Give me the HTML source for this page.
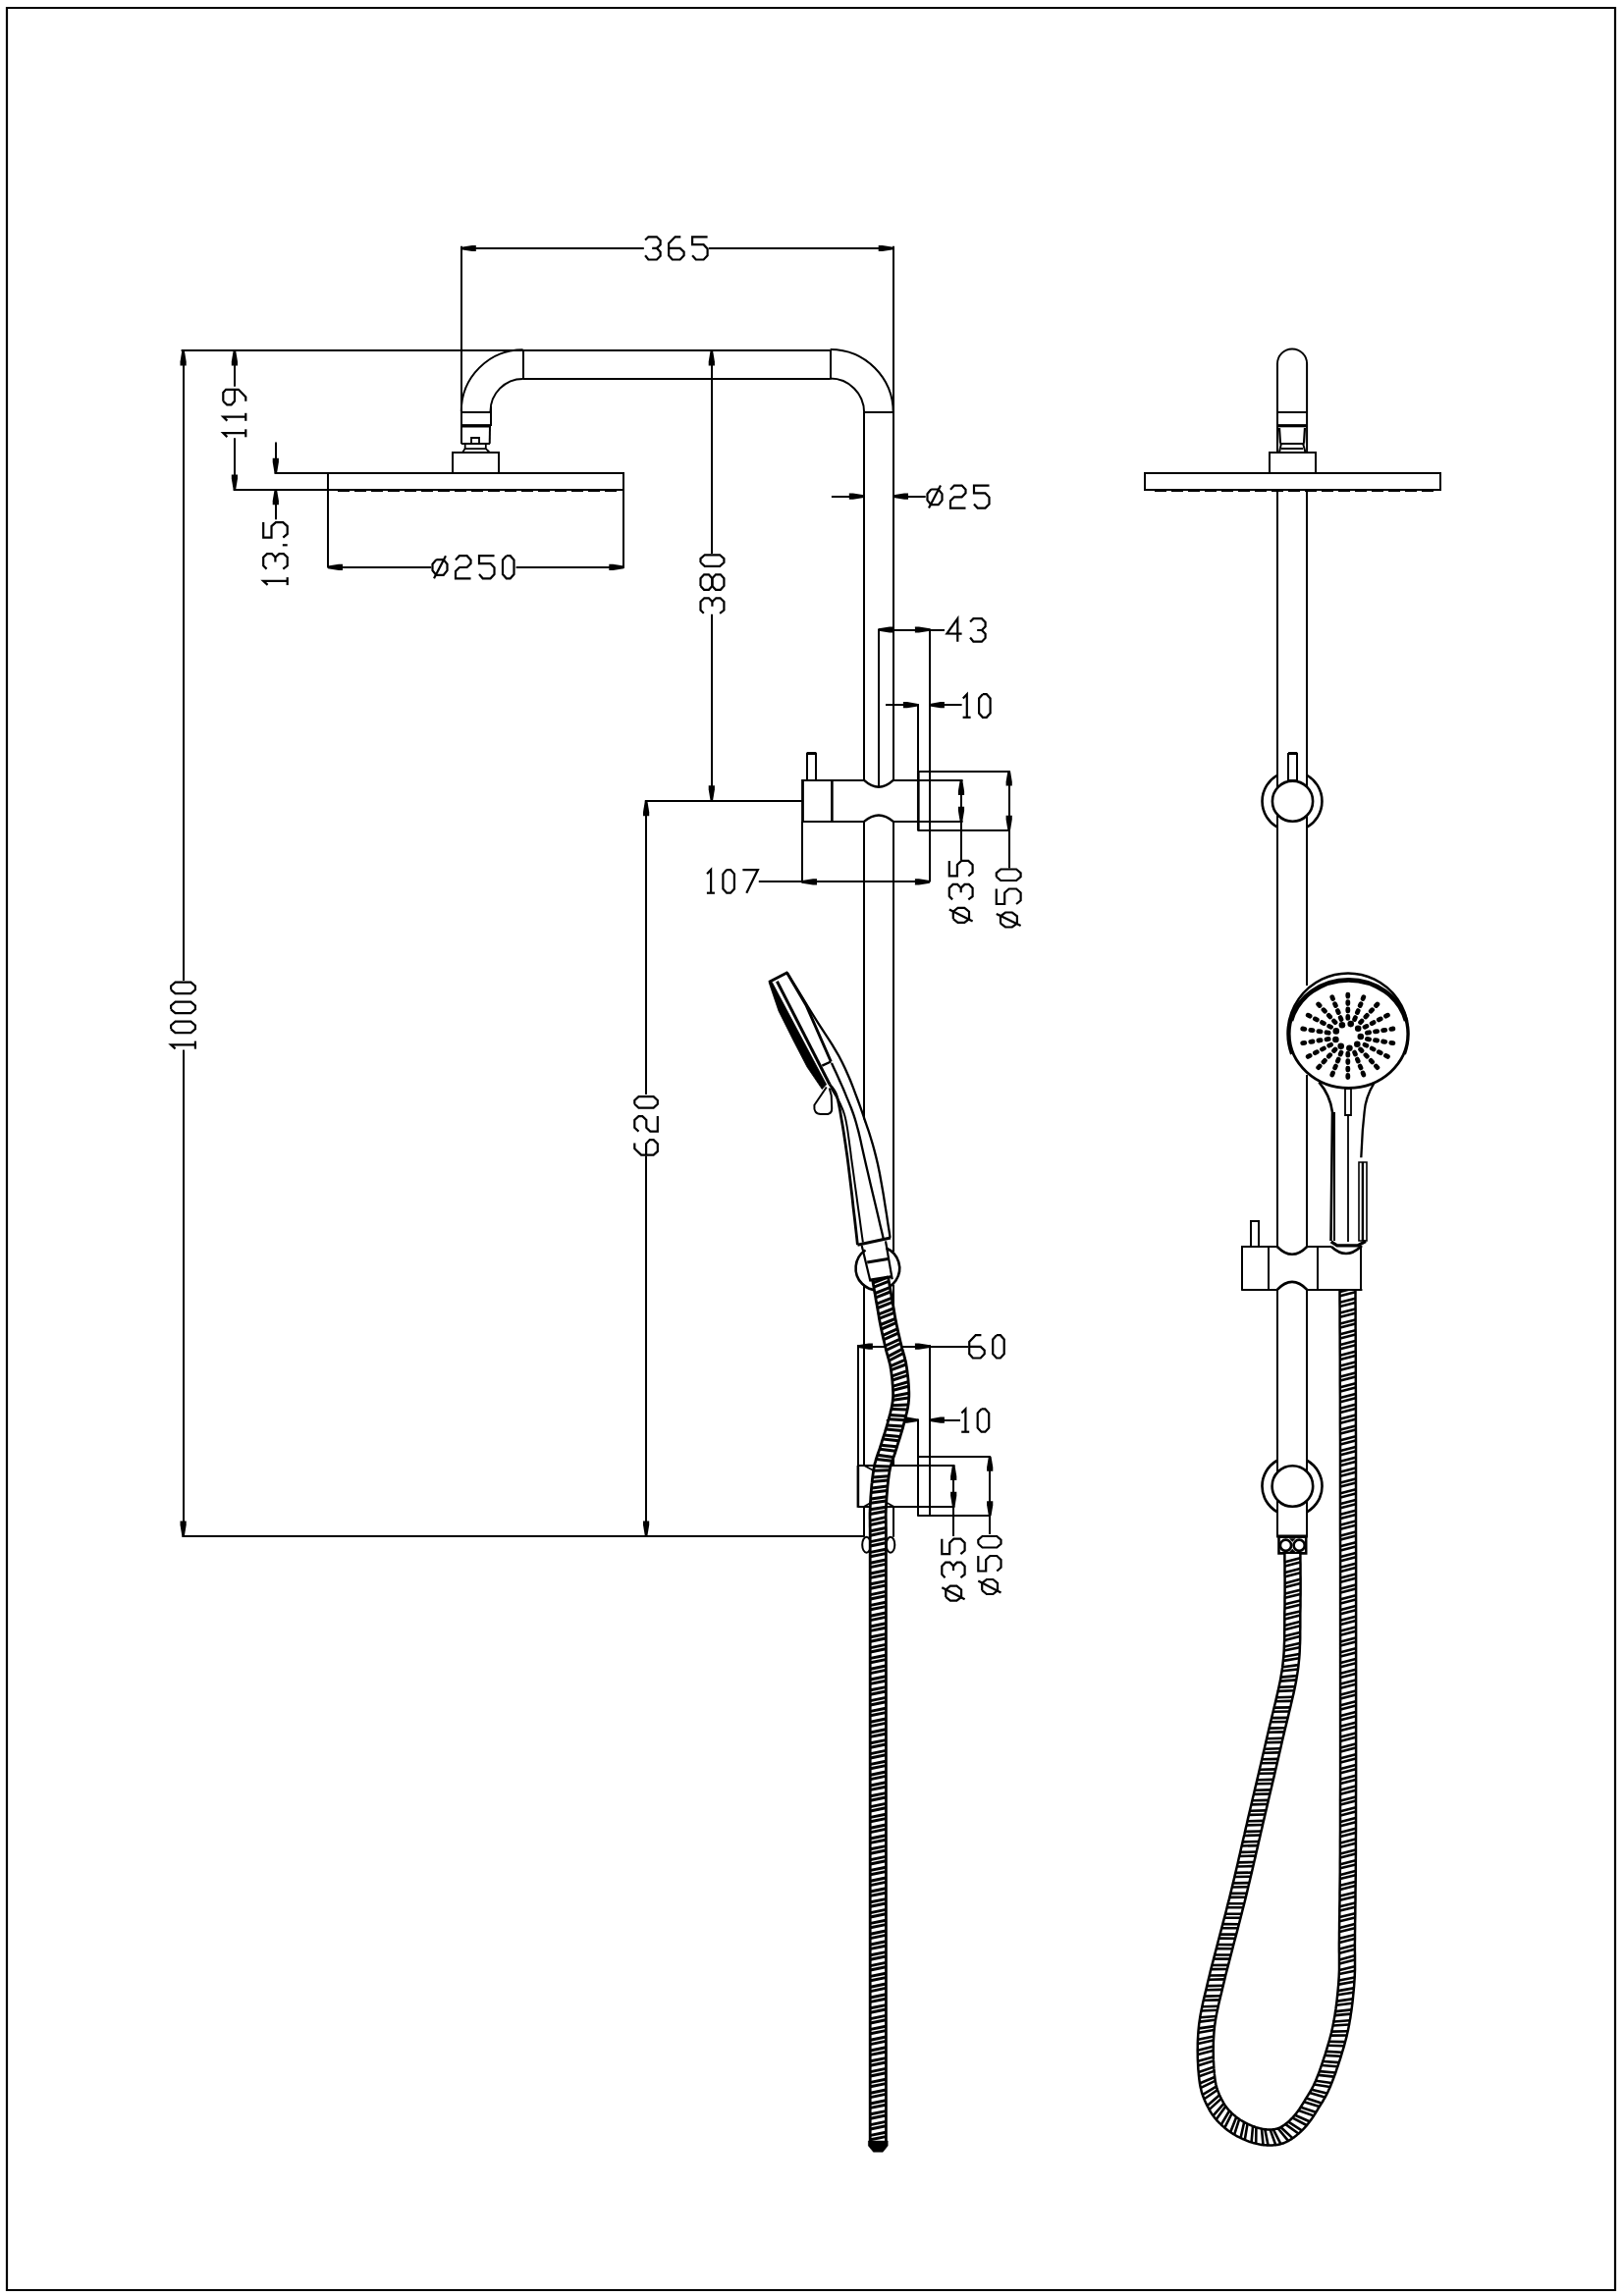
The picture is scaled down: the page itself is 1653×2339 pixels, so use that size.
<!DOCTYPE html>
<html><head><meta charset="utf-8"><title>Shower drawing</title>
<style>
html,body{margin:0;padding:0;background:#fff;}
body{width:1653px;height:2339px;overflow:hidden;font-family:"Liberation Sans",sans-serif;}
svg{display:block;}
</style></head><body>
<svg width="1653" height="2339" viewBox="0 0 1653 2339" xmlns="http://www.w3.org/2000/svg" fill="none" stroke="#000" stroke-linecap="butt" stroke-linejoin="miter">
<polygon points="7,8 1645,8 1645,2333 7,2333" stroke-width="2.2"/>
<line x1="184.6" y1="357" x2="845.6" y2="357" stroke-width="2"/>
<line x1="532.6" y1="386" x2="845.6" y2="386" stroke-width="2"/>
<line x1="533" y1="356.8" x2="533" y2="386.4" stroke-width="2"/>
<line x1="846" y1="356.8" x2="846" y2="386.4" stroke-width="2"/>
<path d="M469.8,419 A62.8,62.8 0 0 1 532.6,356.2" stroke-width="2"/>
<path d="M499.5,419 A33.1,33.1 0 0 1 532.6,385.9" stroke-width="2"/>
<path d="M845.6,356 A64.1,64.1 0 0 1 909.7,420.1" stroke-width="2"/>
<path d="M845.6,385.6 A34.5,34.5 0 0 1 880.1,420.1" stroke-width="2"/>
<line x1="880.1" y1="420" x2="909.7" y2="420" stroke-width="2"/>
<line x1="470" y1="250.8" x2="470" y2="452" stroke-width="2"/>
<line x1="500" y1="414" x2="500" y2="434" stroke-width="2"/>
<line x1="499" y1="434" x2="498.7" y2="452" stroke-width="2"/>
<line x1="470" y1="420" x2="499.5" y2="420" stroke-width="2"/>
<line x1="470" y1="433.8" x2="499.5" y2="433.8" stroke-width="3.4"/>
<line x1="469.8" y1="452" x2="499" y2="452" stroke-width="2"/>
<polygon points="480,446 488,446 488,452 480,452" stroke-width="1.8"/>
<polyline points="473.7,452 473.7,457.1 494.8,457.1 494.8,452" stroke-width="1.8"/>
<polyline points="473.7,457.1 471.3,460.5" stroke-width="1.8"/>
<polyline points="494.8,457.1 498.3,460.5" stroke-width="1.8"/>
<polygon points="461,461 508,461 508,482 461,482" stroke-width="2"/>
<polygon points="334,482 635,482 635,499 334,499" stroke-width="2"/>
<line x1="344" y1="500.5" x2="632" y2="500.5" stroke-width="1.2" stroke-dasharray="12,5"/>
<line x1="469.8" y1="253" x2="655.8" y2="253" stroke-width="2"/>
<line x1="721.8" y1="253" x2="909.7" y2="253" stroke-width="2"/>
<polygon points="469.8,251.7 480.8,249.9 484.8,249.9 484.8,256.1 480.8,256.1 469.8,254.3" fill="#000" stroke="none"/>
<polygon points="909.7,254.3 898.7,256.1 894.7,256.1 894.7,249.9 898.7,249.9 909.7,251.7" fill="#000" stroke="none"/>
<g transform="translate(656.1,240.3)" stroke-width="2.2"><polyline points="1,4.2 4.3,1 12.8,1 16.5,4.7 16.5,9.1 12.8,12.6 8.1,12.6"/><polyline points="12.8,12.6 16.5,16.3 16.5,20.5 12.8,24.2 4.3,24.2 1,20"/><polyline points="37.2,1 31.5,1 25,7.7 25,20 28.7,24.2 36.5,24.2 40.5,20 40.5,16.3 36.5,12.6 25,12.6"/><polyline points="64.5,1 49,1 49,8.9 60.5,8.9 64.5,13.1 64.5,20 60.5,24.2 52.7,24.2 49,20"/></g>
<line x1="910" y1="250.8" x2="910" y2="420.1" stroke-width="2"/>
<line x1="187" y1="357" x2="187" y2="999.1" stroke-width="2"/>
<line x1="187" y1="1069.6" x2="187" y2="1565" stroke-width="2"/>
<polygon points="187.9,357.5 189.7,368.5 189.7,372.5 183.5,372.5 183.5,368.5 185.3,357.5" fill="#000" stroke="none"/>
<polygon points="185.3,1564.5 183.5,1553.5 183.5,1549.5 189.7,1549.5 189.7,1553.5 187.9,1564.5" fill="#000" stroke="none"/>
<g transform="translate(173.1,1069.6) rotate(-90)" stroke-width="2.2"><polyline points="1.2,5.5 5.2,1 5.2,25.8"/><polyline points="1,25.8 9,25.8"/><polyline points="21.3,1 25.2,1 29,5.5 29,21.3 25.2,25.8 21.3,25.8 17.5,21.3 17.5,5.5 21.3,1"/><polyline points="41.3,1 45.2,1 49,5.5 49,21.3 45.2,25.8 41.3,25.8 37.5,21.3 37.5,5.5 41.3,1"/><polyline points="61.3,1 65.2,1 69,5.5 69,21.3 65.2,25.8 61.3,25.8 57.5,21.3 57.5,5.5 61.3,1"/></g>
<line x1="185.3" y1="1565" x2="880.1" y2="1565" stroke-width="2"/>
<line x1="239" y1="357" x2="239" y2="393.8" stroke-width="2"/>
<line x1="239" y1="446.3" x2="239" y2="498.8" stroke-width="2"/>
<polygon points="240.2,357.5 242,368.5 242,372.5 235.8,372.5 235.8,368.5 237.6,357.5" fill="#000" stroke="none"/>
<polygon points="237.6,498.5 235.8,487.5 235.8,483.5 242,483.5 242,487.5 240.2,498.5" fill="#000" stroke="none"/>
<g transform="translate(226.3,446.3) rotate(-90)" stroke-width="2.2"><polyline points="1.2,5.1 5.2,1 5.2,24"/><polyline points="1,24 9,24"/><polyline points="17.7,5.1 21.7,1 21.7,24"/><polyline points="17.5,24 25.5,24"/><polyline points="37.6,1 46.4,1 49.5,3.8 49.5,16.6 41.8,24 37.6,24"/><polyline points="37.6,1 34,4.9 34,9.3 37.7,12.7 49.5,12.7"/></g>
<line x1="237.6" y1="499" x2="334" y2="499" stroke-width="2"/>
<line x1="279.5" y1="482" x2="334" y2="482" stroke-width="2"/>
<line x1="281" y1="450.4" x2="281" y2="481.7" stroke-width="2"/>
<polygon points="279.5,481.7 277.7,470.7 277.7,466.7 283.9,466.7 283.9,470.7 282.1,481.7" fill="#000" stroke="none"/>
<line x1="281" y1="499.2" x2="281" y2="529.3" stroke-width="2"/>
<polygon points="282.1,499.2 283.9,510.2 283.9,514.2 277.7,514.2 277.7,510.2 279.5,499.2" fill="#000" stroke="none"/>
<g transform="translate(267.2,597.1) rotate(-90)" stroke-width="2.2"><polyline points="1.2,5.4 5.2,1 5.2,25.5"/><polyline points="1,25.5 9,25.5"/><polyline points="17.5,4.4 20.8,1 29.3,1 33,4.9 33,9.6 29.3,13.2 24.6,13.2"/><polyline points="29.3,13.2 33,17.2 33,21.6 29.3,25.5 20.8,25.5 17.5,21.1"/><polyline points="41.8,20.6 41.8,25.5"/><polyline points="65,1 49.5,1 49.5,9.3 61,9.3 65,13.7 65,21.1 61,25.5 53.2,25.5 49.5,21.1"/></g>
<line x1="334" y1="481.7" x2="334" y2="578.6" stroke-width="2"/>
<line x1="635" y1="499.2" x2="635" y2="578.8" stroke-width="2"/>
<line x1="334" y1="578" x2="439.2" y2="578" stroke-width="2"/>
<line x1="525.6" y1="578" x2="635.3" y2="578" stroke-width="2"/>
<polygon points="334,576.6 345,574.8 349,574.8 349,581 345,581 334,579.2" fill="#000" stroke="none"/>
<polygon points="635.3,579.2 624.3,581 620.3,581 620.3,574.8 624.3,574.8 635.3,576.6" fill="#000" stroke="none"/>
<g transform="translate(439.5,565.2)" stroke-width="2.2"><polyline points="4.8,4.9 12.2,4.9 16,9.5 16,16 12.2,20.6 4.8,20.6 1,16 1,9.5 4.8,4.9"/><polyline points="2.5,24.1 14.5,1"/><polyline points="24.5,5.2 28.4,1 36.1,1 40,5.2 40,8.9 36.1,12.8 28.4,12.8 24.5,16.7 24.5,24.1 40,24.1"/><polyline points="64,1 48.5,1 48.5,8.9 60,8.9 64,13 64,19.9 60,24.1 52.2,24.1 48.5,19.9"/><polyline points="76.3,1 80.2,1 84,5.2 84,19.9 80.2,24.1 76.3,24.1 72.5,19.9 72.5,5.2 76.3,1"/></g>
<line x1="725" y1="357" x2="725" y2="563.9" stroke-width="2"/>
<line x1="725" y1="625.8" x2="725" y2="815.8" stroke-width="2"/>
<polygon points="726.1,357.5 727.9,368.5 727.9,372.5 721.7,372.5 721.7,368.5 723.5,357.5" fill="#000" stroke="none"/>
<polygon points="723.5,815.3 721.7,804.3 721.7,800.3 727.9,800.3 727.9,804.3 726.1,815.3" fill="#000" stroke="none"/>
<g transform="translate(712.5,625.8) rotate(-90)" stroke-width="2.2"><polyline points="1,4.3 4.3,1 12.8,1 16.5,4.8 16.5,9.4 12.8,12.9 8.1,12.9"/><polyline points="12.8,12.9 16.5,16.8 16.5,21.1 12.8,24.9 4.3,24.9 1,20.6"/><polyline points="28.9,1 36.6,1 40.5,4.6 40.5,9.4 36.6,12.9 28.9,12.9 25,9.4 25,4.6 28.9,1"/><polyline points="28.9,12.9 36.6,12.9 40.5,16.5 40.5,21.3 36.6,24.9 28.9,24.9 25,21.3 25,16.5 28.9,12.9"/><polyline points="52.8,1 56.7,1 60.5,5.3 60.5,20.6 56.7,24.9 52.8,24.9 49,20.6 49,5.3 52.8,1"/></g>
<line x1="656.8" y1="816" x2="817" y2="816" stroke-width="2"/>
<line x1="658" y1="815.8" x2="658" y2="1115.1" stroke-width="2"/>
<line x1="658" y1="1177.6" x2="658" y2="1565" stroke-width="2"/>
<polygon points="659.4,816.3 661.2,827.3 661.2,831.3 655,831.3 655,827.3 656.8,816.3" fill="#000" stroke="none"/>
<polygon points="656.8,1564.5 655,1553.5 655,1549.5 661.2,1549.5 661.2,1553.5 659.4,1564.5" fill="#000" stroke="none"/>
<g transform="translate(645.3,1177.6) rotate(-90)" stroke-width="2.2"><polyline points="13.2,1 7.5,1 1,7.8 1,20.3 4.7,24.5 12.5,24.5 16.5,20.3 16.5,16.5 12.5,12.8 1,12.8"/><polyline points="25,5.2 28.9,1 36.6,1 40.5,5.2 40.5,9 36.6,13 28.9,13 25,17 25,24.5 40.5,24.5"/><polyline points="52.8,1 56.7,1 60.5,5.2 60.5,20.3 56.7,24.5 52.8,24.5 49,20.3 49,5.2 52.8,1"/></g>
<line x1="846.9" y1="506" x2="879.8" y2="506" stroke-width="2"/>
<polygon points="879.8,506.9 868.8,508.7 864.8,508.7 864.8,502.5 868.8,502.5 879.8,504.3" fill="#000" stroke="none"/>
<line x1="910" y1="506" x2="942.7" y2="506" stroke-width="2"/>
<polygon points="910,504.3 921,502.5 925,502.5 925,508.7 921,508.7 910,506.9" fill="#000" stroke="none"/>
<g transform="translate(943.5,493.6)" stroke-width="2.2"><polyline points="4.8,4.9 12.2,4.9 16,9.5 16,16 12.2,20.6 4.8,20.6 1,16 1,9.5 4.8,4.9"/><polyline points="2.5,24 14.5,1"/><polyline points="24.5,5.1 28.4,1 36.1,1 40,5.1 40,8.8 36.1,12.7 28.4,12.7 24.5,16.6 24.5,24 40,24"/><polyline points="64,1 48.5,1 48.5,8.8 60,8.8 64,13 64,19.9 60,24 52.2,24 48.5,19.9"/></g>
<line x1="880" y1="420.1" x2="880" y2="794.9" stroke-width="2"/>
<line x1="910" y1="420.1" x2="910" y2="794.9" stroke-width="2"/>
<line x1="880" y1="836.8" x2="880" y2="1145" stroke-width="2"/>
<line x1="910" y1="836.8" x2="910" y2="1275" stroke-width="2"/>
<line x1="880" y1="1309" x2="880" y2="1493" stroke-width="2"/>
<line x1="910" y1="1309" x2="910" y2="1493" stroke-width="2"/>
<line x1="880" y1="1534.8" x2="880" y2="1565.7" stroke-width="2"/>
<line x1="910" y1="1534.8" x2="910" y2="1565.7" stroke-width="2"/>
<line x1="817" y1="795" x2="880.1" y2="795" stroke-width="2"/>
<line x1="909.7" y1="795" x2="980.6" y2="795" stroke-width="2"/>
<line x1="817" y1="837" x2="880.1" y2="837" stroke-width="2"/>
<line x1="909.7" y1="837" x2="980.6" y2="837" stroke-width="2"/>
<line x1="817.5" y1="794" x2="817.5" y2="837.5" stroke-width="2.8"/>
<line x1="817" y1="836.8" x2="817" y2="899.4" stroke-width="2"/>
<line x1="847.4" y1="794.9" x2="847.4" y2="836.8" stroke-width="2.6"/>
<polygon points="822,768 831,768 831,795 822,795" stroke-width="2"/>
<line x1="821.6" y1="767.5" x2="831.4" y2="767.5" stroke-width="3"/>
<path d="M880.1,794.9 Q895,808.5 909.7,794.9" stroke-width="2.4"/>
<path d="M880.1,836.8 Q895,824 909.7,836.8" stroke-width="2.4"/>
<line x1="895" y1="640.6" x2="895" y2="801.5" stroke-width="2"/>
<line x1="935" y1="717" x2="935" y2="785" stroke-width="2"/>
<line x1="935.3" y1="785" x2="935.3" y2="846.5" stroke-width="2.7"/>
<line x1="947" y1="640.6" x2="947" y2="898.4" stroke-width="2"/>
<line x1="934.9" y1="786" x2="1028.6" y2="786" stroke-width="2"/>
<line x1="934.9" y1="846" x2="1028.6" y2="846" stroke-width="2"/>
<line x1="895" y1="642" x2="962" y2="642" stroke-width="2"/>
<polygon points="895,640.2 906,638.4 910,638.4 910,644.6 906,644.6 895,642.8" fill="#000" stroke="none"/>
<polygon points="946.9,642.8 935.9,644.6 931.9,644.6 931.9,638.4 935.9,638.4 946.9,640.2" fill="#000" stroke="none"/>
<g transform="translate(963.1,629.2)" stroke-width="2.2"><polyline points="12.2,24.5 12.2,1 1.3,16.3 16.5,16.5"/><polyline points="25,4.3 28.3,1 36.8,1 40.5,4.8 40.5,9.2 36.8,12.8 32.1,12.8"/><polyline points="36.8,12.8 40.5,16.5 40.5,20.7 36.8,24.5 28.3,24.5 25,20.3"/></g>
<line x1="902" y1="718" x2="934.9" y2="718" stroke-width="2"/>
<polygon points="934.9,719.5 923.9,721.3 919.9,721.3 919.9,715.1 923.9,715.1 934.9,716.9" fill="#000" stroke="none"/>
<line x1="946.9" y1="718" x2="979.6" y2="718" stroke-width="2"/>
<polygon points="946.9,716.9 957.9,715.1 961.9,715.1 961.9,721.3 957.9,721.3 946.9,719.5" fill="#000" stroke="none"/>
<g transform="translate(979.6,706.2)" stroke-width="2.2"><polyline points="1.2,5.2 5.2,1 5.2,24.6"/><polyline points="1,24.6 9,24.6"/><polyline points="21.3,1 25.2,1 29,5.2 29,20.4 25.2,24.6 21.3,24.6 17.5,20.4 17.5,5.2 21.3,1"/></g>
<line x1="772.8" y1="898" x2="946.9" y2="898" stroke-width="2"/>
<polygon points="817,897.1 828,895.3 832,895.3 832,901.5 828,901.5 817,899.7" fill="#000" stroke="none"/>
<polygon points="946.9,899.7 935.9,901.5 931.9,901.5 931.9,895.3 935.9,895.3 946.9,897.1" fill="#000" stroke="none"/>
<g transform="translate(718.9,885.1)" stroke-width="2.2"><polyline points="1.2,5.2 5.2,1 5.2,24.6"/><polyline points="1,24.6 9,24.6"/><polyline points="21.3,1 25.2,1 29,5.2 29,20.4 25.2,24.6 21.3,24.6 17.5,20.4 17.5,5.2 21.3,1"/><polyline points="37.5,1 53,1 41.4,24.6"/></g>
<line x1="979" y1="794.9" x2="979" y2="876.2" stroke-width="2"/>
<polygon points="980.3,794.9 982.1,805.9 982.1,809.9 975.9,809.9 975.9,805.9 977.7,794.9" fill="#000" stroke="none"/>
<polygon points="977.7,836.8 975.9,825.8 975.9,821.8 982.1,821.8 982.1,825.8 980.3,836.8" fill="#000" stroke="none"/>
<g transform="translate(965.8,940.9) rotate(-90)" stroke-width="2.2"><polyline points="4.8,5 12.2,5 16,9.8 16,16.5 12.2,21.2 4.8,21.2 1,16.5 1,9.8 4.8,5"/><polyline points="2.5,24.8 14.5,1"/><polyline points="24.5,4.3 27.8,1 36.3,1 40,4.8 40,9.3 36.3,12.9 31.6,12.9"/><polyline points="36.3,12.9 40,16.7 40,21 36.3,24.8 27.8,24.8 24.5,20.5"/><polyline points="64,1 48.5,1 48.5,9.1 60,9.1 64,13.4 64,20.5 60,24.8 52.2,24.8 48.5,20.5"/></g>
<line x1="1028" y1="785.6" x2="1028" y2="884.5" stroke-width="2"/>
<polygon points="1029,785.6 1030.8,796.6 1030.8,800.6 1024.6,800.6 1024.6,796.6 1026.4,785.6" fill="#000" stroke="none"/>
<polygon points="1026.4,845.7 1024.6,834.7 1024.6,830.7 1030.8,830.7 1030.8,834.7 1029,845.7" fill="#000" stroke="none"/>
<g transform="translate(1013.8,945.5) rotate(-90)" stroke-width="2.2"><polyline points="4.8,5.2 12.2,5.2 16,10.2 16,17.1 12.2,22.1 4.8,22.1 1,17.1 1,10.2 4.8,5.2"/><polyline points="2.5,25.8 14.5,1"/><polyline points="40,1 24.5,1 24.5,9.4 36,9.4 40,13.9 40,21.3 36,25.8 28.2,25.8 24.5,21.3"/><polyline points="52.3,1 56.2,1 60,5.5 60,21.3 56.2,25.8 52.3,25.8 48.5,21.3 48.5,5.5 52.3,1"/></g>
<line x1="874" y1="1370" x2="874" y2="1493" stroke-width="2"/>
<line x1="873.9" y1="1493" x2="873.9" y2="1535.8" stroke-width="2.6"/>
<line x1="947" y1="1370" x2="947" y2="1543.5" stroke-width="2"/>
<line x1="873.9" y1="1493" x2="972.5" y2="1493" stroke-width="2"/>
<line x1="873.9" y1="1535" x2="972.5" y2="1535" stroke-width="2"/>
<line x1="880.1" y1="1493" x2="890.5" y2="1498.5" stroke-width="1.8"/>
<line x1="880.1" y1="1534.8" x2="887.5" y2="1530.5" stroke-width="1.8"/>
<line x1="902.5" y1="1530.5" x2="910.2" y2="1534.8" stroke-width="1.8"/>
<line x1="935" y1="1445.5" x2="935" y2="1544.7" stroke-width="2"/>
<line x1="934.9" y1="1484" x2="1008.8" y2="1484" stroke-width="2"/>
<line x1="934.9" y1="1544" x2="1008.8" y2="1544" stroke-width="2"/>
<line x1="873.9" y1="1372" x2="986" y2="1372" stroke-width="2"/>
<polygon points="873.9,1370.3 884.9,1368.5 888.9,1368.5 888.9,1374.7 884.9,1374.7 873.9,1372.9" fill="#000" stroke="none"/>
<polygon points="946.9,1372.9 935.9,1374.7 931.9,1374.7 931.9,1368.5 935.9,1368.5 946.9,1370.3" fill="#000" stroke="none"/>
<g transform="translate(986.2,1359.2)" stroke-width="2.2"><polyline points="13.2,1 7.5,1 1,7.8 1,20.1 4.7,24.3 12.5,24.3 16.5,20.1 16.5,16.4 12.5,12.7 1,12.7"/><polyline points="28.8,1 32.7,1 36.5,5.2 36.5,20.1 32.7,24.3 28.8,24.3 25,20.1 25,5.2 28.8,1"/></g>
<line x1="902.8" y1="1447" x2="934.9" y2="1447" stroke-width="2"/>
<polygon points="934.9,1448 923.9,1449.8 919.9,1449.8 919.9,1443.6 923.9,1443.6 934.9,1445.4" fill="#000" stroke="none"/>
<line x1="946.9" y1="1447" x2="978" y2="1447" stroke-width="2"/>
<polygon points="946.9,1445.4 957.9,1443.6 961.9,1443.6 961.9,1449.8 957.9,1449.8 946.9,1448" fill="#000" stroke="none"/>
<g transform="translate(978.2,1434.4)" stroke-width="2.2"><polyline points="1.2,5.2 5.2,1 5.2,24.3"/><polyline points="1,24.3 9,24.3"/><polyline points="21.3,1 25.2,1 29,5.2 29,20.1 25.2,24.3 21.3,24.3 17.5,20.1 17.5,5.2 21.3,1"/></g>
<line x1="971" y1="1493" x2="971" y2="1565" stroke-width="2"/>
<polygon points="972.5,1493 974.3,1504 974.3,1508 968.1,1508 968.1,1504 969.9,1493" fill="#000" stroke="none"/>
<polygon points="969.9,1534.8 968.1,1523.8 968.1,1519.8 974.3,1519.8 974.3,1523.8 972.5,1534.8" fill="#000" stroke="none"/>
<g transform="translate(958.3,1631.7) rotate(-90)" stroke-width="2.2"><polyline points="4.8,5 12.2,5 16,9.6 16,16.1 12.2,20.8 4.8,20.8 1,16.1 1,9.6 4.8,5"/><polyline points="2.5,24.3 14.5,1"/><polyline points="24.5,4.3 27.8,1 36.3,1 40,4.7 40,9.2 36.3,12.7 31.6,12.7"/><polyline points="36.3,12.7 40,16.4 40,20.6 36.3,24.3 27.8,24.3 24.5,20.1"/><polyline points="64,1 48.5,1 48.5,8.9 60,8.9 64,13.1 64,20.1 60,24.3 52.2,24.3 48.5,20.1"/></g>
<line x1="1008" y1="1483.7" x2="1008" y2="1563" stroke-width="2"/>
<polygon points="1009.5,1483.7 1011.3,1494.7 1011.3,1498.7 1005.1,1498.7 1005.1,1494.7 1006.9,1483.7" fill="#000" stroke="none"/>
<polygon points="1006.9,1544.2 1005.1,1533.2 1005.1,1529.2 1011.3,1529.2 1011.3,1533.2 1009.5,1544.2" fill="#000" stroke="none"/>
<g transform="translate(995.3,1625) rotate(-90)" stroke-width="2.2"><polyline points="4.8,4.9 12.2,4.9 16,9.6 16,16.1 12.2,20.7 4.8,20.7 1,16.1 1,9.6 4.8,4.9"/><polyline points="2.5,24.2 14.5,1"/><polyline points="40,1 24.5,1 24.5,8.9 36,8.9 40,13.1 40,20 36,24.2 28.2,24.2 24.5,20"/><polyline points="52.3,1 56.2,1 60,5.2 60,20 56.2,24.2 52.3,24.2 48.5,20 48.5,5.2 52.3,1"/></g>
<ellipse cx="882.5" cy="1573.7" rx="4.3" ry="8" stroke-width="2"/>
<ellipse cx="907" cy="1573.7" rx="4.3" ry="8" stroke-width="2"/>
<polygon points="783.2,1000.3 802,990.5 820.5,1020 854.2,1079.9 868.6,1114.4 881,1144 906.6,1260.8 873.4,1268.2 860,1153.9 851.4,1114.4 839.8,1107.5 829.4,1125.8 834.4,1134.9 846,1134.9 847.2,1108 837,1108.4" stroke-width="0" fill="#fff"/>
<polygon points="783,1000.5 786.3,1000.6 841.6,1104.8 837.3,1109.6 822,1087 808,1060 793,1030" stroke-width="0.8" fill="#000"/>
<line x1="783.1" y1="1000.5" x2="802.4" y2="990.5" stroke-width="3"/>
<line x1="791.4" y1="999.7" x2="844.9" y2="1104.5" stroke-width="3"/>
<polyline points="801.6,991 821,1024 846.3,1081.5" stroke-width="2.9"/>
<line x1="846.3" y1="1081.5" x2="837.3" y2="1085.6" stroke-width="2.4"/>
<polyline points="801.6,991 803.8,994.6 806.7,999.3 810.2,1004.9 814.1,1011.2 818.2,1017.8 822.3,1024.5 826.3,1031 830,1037 833.5,1042.6 837.1,1048.2 840.7,1053.6 844.3,1059.1 847.8,1064.6 851.2,1070.3 854.5,1076 857.6,1082 860.6,1088.2 863.4,1094.5 866.2,1101 868.8,1107.6 871.3,1114.3 873.8,1121 876.2,1127.6 878.5,1134.2 880.7,1140.6 882.8,1146.8 884.9,1152.8 886.8,1159 888.7,1165.3 890.5,1171.9 892.3,1178.9 894.1,1186.5 895.9,1195.2 897.7,1205.3 899.6,1216 901.3,1226.9 903,1237.4 904.4,1246.9 905.7,1254.9 906.6,1260.8" stroke-width="2.3"/>
<polyline points="847,1083 848.1,1085.4 849.6,1088.7 851.4,1092.6 853.3,1096.8 855.4,1101.4 857.4,1105.9 859.3,1110.3 861,1114.4 862.5,1118.1 864,1121.6 865.4,1125.1 866.8,1128.5 868.1,1132 869.4,1135.7 870.7,1139.7 872,1144 873.2,1148.5 874.4,1152.9 875.5,1157.5 876.6,1162.3 877.7,1167.5 879,1173.2 880.4,1179.5 882,1186.5 884,1194.9 886.3,1205 888.9,1216 891.6,1227.3 894.2,1238.2 896.5,1248.2 898.5,1256.6 899.9,1262.7" stroke-width="2.3"/>
<polyline points="844.9,1104.5 845.5,1105.3 846.2,1106.3 847.1,1107.4 848.1,1108.8 849.2,1110.3 850.2,1112 851.2,1113.9 852,1116 852.7,1118.2 853.4,1120.6 853.9,1123.1 854.5,1125.8 855.1,1128.8 855.7,1132.1 856.3,1135.8 857,1140 857.8,1144.5 858.6,1149.2 859.4,1154.2 860.2,1159.6 861.1,1165.5 862,1171.9 863,1178.8 864,1186.5 865.1,1195.6 866.4,1206.4 867.8,1218.1 869.1,1230.3 870.5,1242 871.7,1252.7 872.7,1261.7 873.4,1268.2" stroke-width="2.8"/>
<polyline points="846.5,1108.5 847.3,1109.8 848.3,1111.4 849.5,1113.4 850.9,1115.6 852.3,1117.9 853.6,1120.3 854.9,1122.7 856,1125 856.9,1127.1 857.7,1129 858.5,1130.9 859.2,1132.9 859.9,1135 860.6,1137.5 861.3,1140.5 862,1144 862.7,1147.9 863.4,1152.1 864,1156.6 864.7,1161.5 865.4,1166.8 866.2,1172.7 867,1179.3 868,1186.5 869.2,1195.2 870.6,1205.6 872.2,1217 873.8,1228.8 875.4,1240.2 876.8,1250.6 878,1259.3 878.9,1265.7" stroke-width="2"/>
<path d="M841.8,1107.5 L829.4,1125.8 Q828.5,1134.9 836,1134.9 L843.2,1134.9 Q847.4,1134 847.2,1129 L846.7,1115.9 L844.7,1108.5" stroke-width="2" fill="#fff"/>
<line x1="873.4" y1="1268.2" x2="907" y2="1261" stroke-width="3.2"/>
<path d="M902.5,1271.5 A22.3,22.3 0 1 1 881.5,1273.5" stroke-width="2.6"/>
<polyline points="877.7,1268.9 886.5,1305.5" stroke-width="2.2"/>
<polyline points="902,1264.4 908.7,1303.2" stroke-width="2.2"/>
<line x1="883.2" y1="1286" x2="904.3" y2="1282.6" stroke-width="3"/>
<path d="M896.5,1302 L896.7,1302.9 L896.9,1304 L897.1,1305.3 L897.3,1306.7 L897.6,1308.2 L897.9,1309.9 L898.2,1311.6 L898.5,1313.4 L898.8,1315.2 L899.2,1317.1 L899.5,1319 L899.8,1320.8 L900.1,1322.6 L900.4,1324.4 L900.7,1326 L901,1327.6 L901.3,1329.1 L901.5,1330.6 L901.8,1332 L902,1333.4 L902.3,1334.8 L902.5,1336.3 L902.7,1337.6 L903,1339 L903.2,1340.4 L903.4,1341.8 L903.7,1343.1 L903.9,1344.5 L904.2,1345.9 L904.5,1347.2 L904.7,1348.6 L905,1350 L905.3,1351.4 L905.6,1352.8 L905.9,1354.1 L906.2,1355.5 L906.5,1356.9 L906.8,1358.3 L907.1,1359.7 L907.4,1361 L907.7,1362.4 L908.1,1363.8 L908.4,1365.1 L908.7,1366.5 L909,1367.9 L909.3,1369.3 L909.7,1370.6 L910,1372 L910.3,1373.4 L910.7,1374.7 L911,1376 L911.4,1377.3 L911.8,1378.6 L912.1,1379.9 L912.5,1381.2 L912.9,1382.5 L913.2,1383.8 L913.6,1385.2 L913.9,1386.5 L914.3,1387.9 L914.6,1389.4 L914.9,1390.9 L915.1,1392.4 L915.4,1394 L915.6,1395.7 L915.9,1397.4 L916.1,1399.2 L916.3,1401.1 L916.6,1403 L916.8,1404.9 L917,1406.9 L917.1,1408.8 L917.3,1410.8 L917.4,1412.8 L917.5,1414.8 L917.6,1416.7 L917.7,1418.6 L917.7,1420.5 L917.7,1422.3 L917.6,1424 L917.5,1425.7 L917.3,1427.3 L917.2,1428.9 L916.9,1430.5 L916.7,1432.1 L916.4,1433.6 L916.1,1435.1 L915.8,1436.6 L915.4,1438.1 L915,1439.6 L914.7,1441.1 L914.3,1442.6 L913.9,1444.1 L913.5,1445.6 L913.1,1447.1 L912.7,1448.6 L912.3,1450.1 L911.9,1451.7 L911.5,1453.2 L911,1454.7 L910.6,1456.3 L910.1,1457.8 L909.6,1459.4 L909.2,1460.9 L908.7,1462.4 L908.2,1464 L907.7,1465.5 L907.2,1467 L906.7,1468.6 L906.2,1470.1 L905.8,1471.7 L905.3,1473.2 L904.8,1474.7 L904.3,1476.2 L903.9,1477.7 L903.4,1479.1 L902.9,1480.5 L902.4,1481.9 L901.9,1483.3 L901.4,1484.8 L900.9,1486.2 L900.4,1487.7 L899.9,1489.3 L899.5,1490.9 L899,1492.5 L898.6,1494.2 L898.3,1496 L897.9,1497.9 L897.6,1499.9 L897.3,1501.9 L897,1504.1 L896.7,1506.3 L896.4,1508.6 L896.2,1510.9 L895.9,1513.3 L895.7,1515.7 L895.5,1518.1 L895.3,1520.6 L895.1,1523 L894.9,1525.4 L894.8,1527.8 L894.6,1530.2 L894.5,1532.5 L894.4,1534.8 L894.3,1536.9 L894.2,1538.6 L894.2,1540.2 L894.1,1541.5 L894.1,1542.7 L894.1,1544 L894.1,1545.2 L894.1,1546.6 L894.2,1548.1 L894.2,1549.9 L894.2,1552.1 L894.2,1554.6 L894.3,1557.6 L894.3,1561.1 L894.3,1565.2 L894.3,1570 L894.3,1574.9 L894.3,1579.3 L894.3,1583.4 L894.3,1587.5 L894.3,1591.7 L894.3,1596.2 L894.3,1601.1 L894.3,1606.8 L894.3,1613.4 L894.3,1621 L894.3,1629.9 L894.3,1640.2 L894.3,1652.2 L894.3,1666.1 L894.3,1681.9 L894.3,1700 L894.3,1721.5 L894.3,1747 L894.3,1776 L894.3,1807.9 L894.3,1841.9 L894.3,1877.5 L894.3,1914.1 L894.3,1951.1 L894.3,1987.8 L894.3,2023.7 L894.3,2058.1 L894.3,2090.3 L894.3,2119.9 L894.3,2146.1 L894.3,2168.3 L894.3,2186" stroke-width="19" stroke-linecap="butt" stroke-linejoin="round"/>
<path d="M896.5,1302 L896.7,1302.9 L896.9,1304 L897.1,1305.3 L897.3,1306.7 L897.6,1308.2 L897.9,1309.9 L898.2,1311.6 L898.5,1313.4 L898.8,1315.2 L899.2,1317.1 L899.5,1319 L899.8,1320.8 L900.1,1322.6 L900.4,1324.4 L900.7,1326 L901,1327.6 L901.3,1329.1 L901.5,1330.6 L901.8,1332 L902,1333.4 L902.3,1334.8 L902.5,1336.3 L902.7,1337.6 L903,1339 L903.2,1340.4 L903.4,1341.8 L903.7,1343.1 L903.9,1344.5 L904.2,1345.9 L904.5,1347.2 L904.7,1348.6 L905,1350 L905.3,1351.4 L905.6,1352.8 L905.9,1354.1 L906.2,1355.5 L906.5,1356.9 L906.8,1358.3 L907.1,1359.7 L907.4,1361 L907.7,1362.4 L908.1,1363.8 L908.4,1365.1 L908.7,1366.5 L909,1367.9 L909.3,1369.3 L909.7,1370.6 L910,1372 L910.3,1373.4 L910.7,1374.7 L911,1376 L911.4,1377.3 L911.8,1378.6 L912.1,1379.9 L912.5,1381.2 L912.9,1382.5 L913.2,1383.8 L913.6,1385.2 L913.9,1386.5 L914.3,1387.9 L914.6,1389.4 L914.9,1390.9 L915.1,1392.4 L915.4,1394 L915.6,1395.7 L915.9,1397.4 L916.1,1399.2 L916.3,1401.1 L916.6,1403 L916.8,1404.9 L917,1406.9 L917.1,1408.8 L917.3,1410.8 L917.4,1412.8 L917.5,1414.8 L917.6,1416.7 L917.7,1418.6 L917.7,1420.5 L917.7,1422.3 L917.6,1424 L917.5,1425.7 L917.3,1427.3 L917.2,1428.9 L916.9,1430.5 L916.7,1432.1 L916.4,1433.6 L916.1,1435.1 L915.8,1436.6 L915.4,1438.1 L915,1439.6 L914.7,1441.1 L914.3,1442.6 L913.9,1444.1 L913.5,1445.6 L913.1,1447.1 L912.7,1448.6 L912.3,1450.1 L911.9,1451.7 L911.5,1453.2 L911,1454.7 L910.6,1456.3 L910.1,1457.8 L909.6,1459.4 L909.2,1460.9 L908.7,1462.4 L908.2,1464 L907.7,1465.5 L907.2,1467 L906.7,1468.6 L906.2,1470.1 L905.8,1471.7 L905.3,1473.2 L904.8,1474.7 L904.3,1476.2 L903.9,1477.7 L903.4,1479.1 L902.9,1480.5 L902.4,1481.9 L901.9,1483.3 L901.4,1484.8 L900.9,1486.2 L900.4,1487.7 L899.9,1489.3 L899.5,1490.9 L899,1492.5 L898.6,1494.2 L898.3,1496 L897.9,1497.9 L897.6,1499.9 L897.3,1501.9 L897,1504.1 L896.7,1506.3 L896.4,1508.6 L896.2,1510.9 L895.9,1513.3 L895.7,1515.7 L895.5,1518.1 L895.3,1520.6 L895.1,1523 L894.9,1525.4 L894.8,1527.8 L894.6,1530.2 L894.5,1532.5 L894.4,1534.8 L894.3,1536.9 L894.2,1538.6 L894.2,1540.2 L894.1,1541.5 L894.1,1542.7 L894.1,1544 L894.1,1545.2 L894.1,1546.6 L894.2,1548.1 L894.2,1549.9 L894.2,1552.1 L894.2,1554.6 L894.3,1557.6 L894.3,1561.1 L894.3,1565.2 L894.3,1570 L894.3,1574.9 L894.3,1579.3 L894.3,1583.4 L894.3,1587.5 L894.3,1591.7 L894.3,1596.2 L894.3,1601.1 L894.3,1606.8 L894.3,1613.4 L894.3,1621 L894.3,1629.9 L894.3,1640.2 L894.3,1652.2 L894.3,1666.1 L894.3,1681.9 L894.3,1700 L894.3,1721.5 L894.3,1747 L894.3,1776 L894.3,1807.9 L894.3,1841.9 L894.3,1877.5 L894.3,1914.1 L894.3,1951.1 L894.3,1987.8 L894.3,2023.7 L894.3,2058.1 L894.3,2090.3 L894.3,2119.9 L894.3,2146.1 L894.3,2168.3 L894.3,2186" stroke-width="13.4" stroke="#fff" stroke-linecap="butt" stroke-linejoin="round"/>
<path d="M889.4,1306.9L904.3,1301M890.2,1311.2L905,1305.4M891.3,1317.5L906.1,1311.7M892,1321.9L906.9,1316M893.2,1328.2L908,1322.3M893.9,1332.5L908.8,1326.7M895,1338.8L909.9,1333M895.7,1343.1L910.6,1337.3M896.9,1349.5L911.7,1343.5M897.8,1354L912.5,1347.7M899.2,1360.4L913.8,1353.8M900.2,1364.7L914.8,1358.1M901.7,1371L916.2,1364.3M902.7,1375.3L917.2,1368.5M904.5,1381.8L918.7,1374.4M905.7,1386L919.9,1378.6M907.1,1391.7L921.7,1385.3M907.7,1395.6L922.7,1390M908.6,1401.8L923.7,1396.6M909,1406L924.2,1401.1M909.6,1412.1L924.9,1407.7M909.8,1416.3L925.2,1412.3M909.8,1422.2L925.5,1419.2M909.6,1426.2L925.4,1424M908.8,1431.8L924.8,1431.1M908,1435.6L923.9,1435.9M906.5,1441.6L922.4,1442.4M905.3,1445.8L921.3,1446.7M903.7,1451.9L919.6,1453M902.5,1455.9L918.4,1457.4M900.6,1461.9L916.5,1463.6M899.3,1466.1L915.2,1467.8M897.4,1472.3L913.3,1473.8M896.1,1476.3L911.9,1478.3M894,1482.2L909.8,1484.4M892.5,1486.6L908.4,1488.3M890.8,1493.4L906.8,1493.9M889.9,1498.2L905.9,1497.7M889,1504.9L904.9,1503.7M888.5,1509.4L904.3,1507.9M887.8,1515.9L903.7,1514.1M887.5,1520.4L903.3,1518.4M887,1526.9L902.8,1524.7M886.7,1531.3L902.6,1529M886.4,1537.8L902.2,1535.3M886.3,1542.4L902,1539.6M886.3,1549.1L901.9,1545.6M886.4,1553.5L902,1550.1M886.5,1559.8L902.1,1556.5M886.5,1564.2L902.1,1560.9M886.5,1570.6L902.1,1567.4M886.5,1575L902.1,1571.8M886.5,1581.4L902.1,1578.2M886.5,1585.8L902.1,1582.6M886.5,1592.2L902.1,1589M886.5,1596.6L902.1,1593.4M886.5,1603L902.1,1599.8M886.5,1607.4L902.1,1604.2M886.5,1613.8L902.1,1610.6M886.5,1618.2L902.1,1615M886.5,1624.6L902.1,1621.4M886.5,1629L902.1,1625.8M886.5,1635.4L902.1,1632.2M886.5,1639.8L902.1,1636.6M886.5,1646.2L902.1,1643M886.5,1650.6L902.1,1647.4M886.5,1657L902.1,1653.8M886.5,1661.4L902.1,1658.2M886.5,1667.8L902.1,1664.6M886.5,1672.2L902.1,1669M886.5,1678.6L902.1,1675.4M886.5,1683L902.1,1679.8M886.5,1689.4L902.1,1686.2M886.5,1693.8L902.1,1690.6M886.5,1700.2L902.1,1697M886.5,1704.6L902.1,1701.4M886.5,1711L902.1,1707.8M886.5,1715.4L902.1,1712.2M886.5,1721.8L902.1,1718.6M886.5,1726.2L902.1,1723M886.5,1732.6L902.1,1729.4M886.5,1737L902.1,1733.8M886.5,1743.4L902.1,1740.2M886.5,1747.8L902.1,1744.6M886.5,1754.2L902.1,1751M886.5,1758.6L902.1,1755.4M886.5,1765L902.1,1761.8M886.5,1769.4L902.1,1766.2M886.5,1775.8L902.1,1772.6M886.5,1780.2L902.1,1777M886.5,1786.6L902.1,1783.4M886.5,1791L902.1,1787.8M886.5,1797.4L902.1,1794.2M886.5,1801.8L902.1,1798.6M886.5,1808.2L902.1,1805M886.5,1812.6L902.1,1809.4M886.5,1819L902.1,1815.8M886.5,1823.4L902.1,1820.2M886.5,1829.8L902.1,1826.6M886.5,1834.2L902.1,1831M886.5,1840.6L902.1,1837.4M886.5,1845L902.1,1841.8M886.5,1851.4L902.1,1848.2M886.5,1855.8L902.1,1852.6M886.5,1862.2L902.1,1859M886.5,1866.6L902.1,1863.4M886.5,1873L902.1,1869.8M886.5,1877.4L902.1,1874.2M886.5,1883.8L902.1,1880.6M886.5,1888.2L902.1,1885M886.5,1894.6L902.1,1891.4M886.5,1899L902.1,1895.8M886.5,1905.4L902.1,1902.2M886.5,1909.8L902.1,1906.6M886.5,1916.2L902.1,1913M886.5,1920.6L902.1,1917.4M886.5,1927L902.1,1923.8M886.5,1931.4L902.1,1928.2M886.5,1937.8L902.1,1934.6M886.5,1942.2L902.1,1939M886.5,1948.6L902.1,1945.4M886.5,1953L902.1,1949.8M886.5,1959.4L902.1,1956.2M886.5,1963.8L902.1,1960.6M886.5,1970.2L902.1,1967M886.5,1974.6L902.1,1971.4M886.5,1981L902.1,1977.8M886.5,1985.4L902.1,1982.2M886.5,1991.8L902.1,1988.6M886.5,1996.2L902.1,1993M886.5,2002.6L902.1,1999.4M886.5,2007L902.1,2003.8M886.5,2013.4L902.1,2010.2M886.5,2017.8L902.1,2014.6M886.5,2024.2L902.1,2021M886.5,2028.6L902.1,2025.4M886.5,2035L902.1,2031.8M886.5,2039.4L902.1,2036.2M886.5,2045.8L902.1,2042.6M886.5,2050.2L902.1,2047M886.5,2056.6L902.1,2053.4M886.5,2061L902.1,2057.8M886.5,2067.4L902.1,2064.2M886.5,2071.8L902.1,2068.6M886.5,2078.2L902.1,2075M886.5,2082.6L902.1,2079.4M886.5,2089L902.1,2085.8M886.5,2093.4L902.1,2090.2M886.5,2099.8L902.1,2096.6M886.5,2104.2L902.1,2101M886.5,2110.6L902.1,2107.4M886.5,2115L902.1,2111.8M886.5,2121.4L902.1,2118.2M886.5,2125.8L902.1,2122.6M886.5,2132.2L902.1,2129M886.5,2136.6L902.1,2133.4M886.5,2143L902.1,2139.8M886.5,2147.4L902.1,2144.2M886.5,2153.8L902.1,2150.6M886.5,2158.2L902.1,2155M886.5,2164.6L902.1,2161.4M886.5,2169L902.1,2165.8M886.5,2175.4L902.1,2172.2M886.5,2179.8L902.1,2176.6M886.5,2186.2L902.1,2183" stroke-width="3"/>
<line x1="886.5" y1="1304" x2="908.7" y2="1300.5" stroke-width="3"/>
<path d="M884.4,2181 L884.4,2186 L889.5,2192.3 L899.2,2192.3 L904.2,2186 L904.2,2181 Z" stroke-width="0.5" fill="#000"/>
<path d="M1301,460.8 L1301,370.5 A15,15 0 0 1 1331.1,370.5 L1331.1,460.8" stroke-width="2"/>
<line x1="1301" y1="420" x2="1331.1" y2="420" stroke-width="2"/>
<line x1="1301" y1="433.7" x2="1331.1" y2="433.7" stroke-width="3.2"/>
<line x1="1303" y1="436" x2="1304" y2="451.5" stroke-width="2.2"/>
<line x1="1329" y1="436" x2="1328" y2="451.5" stroke-width="2.2"/>
<line x1="1303.5" y1="452" x2="1328.5" y2="452" stroke-width="2"/>
<line x1="1305" y1="457" x2="1327" y2="457" stroke-width="2"/>
<line x1="1305" y1="451.5" x2="1303" y2="460.8" stroke-width="2"/>
<line x1="1327" y1="451.5" x2="1329.5" y2="460.8" stroke-width="2"/>
<polygon points="1293,461 1340,461 1340,482 1293,482" stroke-width="2"/>
<polygon points="1166,482 1467,482 1467,499 1166,499" stroke-width="2"/>
<line x1="1176" y1="500.5" x2="1464" y2="500.5" stroke-width="1.2" stroke-dasharray="12,5"/>
<line x1="1301" y1="499.2" x2="1301" y2="803" stroke-width="2"/>
<line x1="1331" y1="499.2" x2="1331" y2="803" stroke-width="2"/>
<line x1="1301" y1="829.5" x2="1301" y2="1270" stroke-width="2"/>
<line x1="1331" y1="829.5" x2="1331" y2="1004" stroke-width="2"/>
<line x1="1331" y1="1095" x2="1331" y2="1270" stroke-width="2"/>
<line x1="1301" y1="1313.8" x2="1301" y2="1500.5" stroke-width="2"/>
<line x1="1331" y1="1313.8" x2="1331" y2="1500.5" stroke-width="2"/>
<line x1="1301" y1="1527.5" x2="1301" y2="1565" stroke-width="2"/>
<line x1="1331" y1="1527.5" x2="1331" y2="1565" stroke-width="2"/>
<line x1="1300" y1="1565" x2="1332" y2="1565" stroke-width="3"/>
<circle cx="1316.5" cy="816.2" r="20.6" stroke-width="2.6" fill="#fff"/>
<polygon points="1312,768 1321,768 1321,795 1312,795" stroke-width="2"/>
<line x1="1312.1" y1="767.5" x2="1321.3" y2="767.5" stroke-width="3"/>
<path d="M1300.5,790 A30.5,30.5 0 0 0 1300.5,842.5" stroke-width="2.6"/>
<path d="M1331.5,790 A30.5,30.5 0 0 1 1331.5,842.5" stroke-width="2.6"/>
<circle cx="1316.4" cy="1514" r="20.8" stroke-width="2.6" fill="#fff"/>
<path d="M1300.5,1488 A30,30 0 0 0 1300.5,1540" stroke-width="2.6"/>
<path d="M1331.5,1488 A30,30 0 0 1 1331.5,1540" stroke-width="2.6"/>
<polygon points="1302.5,1565.8 1330.2,1565.8 1330.2,1582.4 1302.5,1582.4" stroke-width="2.6"/>
<circle cx="1309.5" cy="1574.3" r="5.6" stroke-width="2.7"/>
<circle cx="1323.2" cy="1574.3" r="5.6" stroke-width="2.7"/>
<polygon points="1313.5,1567.5 1319.2,1567.5 1316.3,1570.5" stroke-width="0.5" fill="#000"/>
<polygon points="1313.5,1581 1319.2,1581 1316.3,1578" stroke-width="0.5" fill="#000"/>
<path d="M1372.5,1312 L1372.5,1318.3 L1372.5,1325.4 L1372.6,1333.3 L1372.6,1342 L1372.6,1351.4 L1372.7,1361.6 L1372.7,1372.5 L1372.8,1384.1 L1372.8,1396.4 L1372.8,1409.4 L1372.9,1423 L1372.9,1437.2 L1372.9,1452 L1373,1467.5 L1373,1483.5 L1373,1500 L1373,1517.8 L1373,1537.6 L1373,1558.9 L1373.1,1581.5 L1373.1,1605.1 L1373.1,1629.5 L1373.1,1654.3 L1373.1,1679.2 L1373.1,1704.1 L1373.1,1728.5 L1373.1,1752.2 L1373.1,1774.9 L1373.1,1796.3 L1373.1,1816.1 L1373,1834.1 L1373,1850 L1373,1863.9 L1372.9,1876.5 L1372.9,1887.7 L1372.8,1897.8 L1372.8,1906.8 L1372.7,1914.9 L1372.6,1922.2 L1372.5,1928.8 L1372.5,1934.7 L1372.4,1940.2 L1372.3,1945.4 L1372.3,1950.3 L1372.2,1955.1 L1372.1,1959.9 L1372.1,1964.8 L1372,1970 L1372,1975 L1371.9,1979.6 L1371.9,1983.7 L1371.9,1987.4 L1372,1990.8 L1372,1993.9 L1372,1996.8 L1372,1999.4 L1372,2001.9 L1372,2004.4 L1372,2006.8 L1371.9,2009.2 L1371.8,2011.7 L1371.7,2014.3 L1371.5,2017 L1371.3,2020 L1371.1,2023.1 L1370.8,2026.2 L1370.5,2029.3 L1370.2,2032.4 L1369.9,2035.5 L1369.6,2038.5 L1369.2,2041.6 L1368.8,2044.7 L1368.4,2047.8 L1367.9,2050.8 L1367.5,2053.9 L1366.9,2057 L1366.4,2060.1 L1365.8,2063.1 L1365.2,2066.2 L1364.5,2069.3 L1363.8,2072.4 L1363,2075.6 L1362.1,2078.9 L1361.2,2082.2 L1360.2,2085.5 L1359.2,2088.9 L1358.2,2092.2 L1357.2,2095.5 L1356.1,2098.7 L1355.1,2101.9 L1354,2105 L1353,2108 L1352,2110.9 L1351,2113.6 L1350,2116.2 L1349.1,2118.6 L1348.2,2120.8 L1347.4,2122.9 L1346.5,2124.8 L1345.7,2126.6 L1344.9,2128.3 L1344.1,2129.9 L1343.3,2131.4 L1342.5,2132.8 L1341.7,2134.2 L1340.9,2135.5 L1340.2,2136.8 L1339.4,2138 L1338.6,2139.3 L1337.8,2140.6 L1337,2141.9 L1336.2,2143.2 L1335.4,2144.5 L1334.6,2145.9 L1333.8,2147.2 L1333,2148.5 L1332.2,2149.7 L1331.4,2151 L1330.6,2152.2 L1329.8,2153.4 L1329,2154.5 L1328.1,2155.7 L1327.3,2156.8 L1326.5,2157.9 L1325.6,2158.9 L1324.8,2160 L1323.9,2161 L1323,2162 L1322.1,2163 L1321.2,2163.9 L1320.2,2164.9 L1319.3,2165.8 L1318.3,2166.7 L1317.3,2167.6 L1316.3,2168.4 L1315.3,2169.2 L1314.3,2170 L1313.3,2170.8 L1312.3,2171.5 L1311.3,2172.2 L1310.3,2172.8 L1309.3,2173.4 L1308.3,2174 L1307.3,2174.5 L1306.3,2175 L1305.3,2175.4 L1304.3,2175.8 L1303.3,2176.1 L1302.3,2176.4 L1301.4,2176.7 L1300.4,2176.9 L1299.4,2177.1 L1298.4,2177.2 L1297.3,2177.3 L1296.3,2177.4 L1295.3,2177.5 L1294.2,2177.5 L1293.2,2177.5 L1292.1,2177.5 L1291,2177.5 L1289.9,2177.4 L1288.8,2177.3 L1287.6,2177.2 L1286.4,2177.1 L1285.3,2176.9 L1284.1,2176.6 L1282.9,2176.4 L1281.7,2176.1 L1280.5,2175.8 L1279.2,2175.5 L1278,2175.1 L1276.8,2174.8 L1275.6,2174.4 L1274.4,2173.9 L1273.2,2173.5 L1272,2173 L1270.8,2172.5 L1269.6,2172 L1268.4,2171.4 L1267.1,2170.8 L1265.9,2170.2 L1264.7,2169.6 L1263.4,2169 L1262.2,2168.3 L1261,2167.6 L1259.8,2166.9 L1258.6,2166.1 L1257.4,2165.3 L1256.3,2164.5 L1255.2,2163.7 L1254.1,2162.9 L1253,2162 L1252,2161.1 L1250.9,2160.2 L1249.9,2159.3 L1248.9,2158.4 L1248,2157.4 L1247,2156.5 L1246,2155.5 L1245.1,2154.5 L1244.2,2153.4 L1243.3,2152.3 L1242.5,2151.2 L1241.6,2150.1 L1240.8,2148.9 L1240,2147.6 L1239.2,2146.3 L1238.5,2145 L1237.8,2143.7 L1237.1,2142.3 L1236.4,2141 L1235.7,2139.6 L1235,2138.2 L1234.4,2136.8 L1233.8,2135.3 L1233.2,2133.8 L1232.6,2132.2 L1232,2130.6 L1231.5,2128.9 L1231.1,2127 L1230.6,2125.1 L1230.2,2123.1 L1229.8,2120.9 L1229.5,2118.6 L1229.2,2116.1 L1228.9,2113.5 L1228.7,2110.8 L1228.4,2107.9 L1228.2,2104.9 L1228.1,2101.8 L1227.9,2098.6 L1227.8,2095.4 L1227.8,2092.1 L1227.7,2088.8 L1227.8,2085.5 L1227.8,2082.2 L1227.9,2078.9 L1228.1,2075.6 L1228.3,2072.4 L1228.5,2069.3 L1228.8,2066.3 L1229.1,2063.4 L1229.5,2060.6 L1229.9,2057.9 L1230.3,2055.2 L1230.8,2052.6 L1231.3,2049.9 L1231.9,2047.1 L1232.5,2044.3 L1233.1,2041.4 L1233.8,2038.3 L1234.6,2035.1 L1235.4,2031.7 L1236.3,2028.1 L1237.2,2024.2 L1238.2,2020 L1239.3,2015.5 L1240.4,2010.7 L1241.7,2005.7 L1243.1,2000.4 L1244.5,1994.9 L1246,1989.2 L1247.5,1983.4 L1249,1977.5 L1250.6,1971.5 L1252.2,1965.5 L1253.7,1959.6 L1255.3,1953.6 L1256.8,1947.8 L1258.2,1942 L1259.7,1936.4 L1261,1931 L1262.3,1925.7 L1263.5,1920.5 L1264.8,1915.3 L1266,1910.2 L1267.2,1905.1 L1268.4,1900 L1269.5,1895 L1270.7,1890 L1271.8,1885 L1273,1880 L1274.1,1875 L1275.3,1870.1 L1276.4,1865.1 L1277.6,1860.1 L1278.7,1855 L1279.9,1850 L1281.1,1844.9 L1282.3,1839.8 L1283.5,1834.6 L1284.7,1829.5 L1285.9,1824.3 L1287.2,1819.1 L1288.4,1813.9 L1289.6,1808.8 L1290.8,1803.6 L1292,1798.5 L1293.2,1793.4 L1294.3,1788.4 L1295.5,1783.4 L1296.6,1778.6 L1297.7,1773.7 L1298.8,1769 L1299.9,1764.3 L1301,1759.7 L1302.1,1755.2 L1303.2,1750.7 L1304.3,1746.2 L1305.3,1741.9 L1306.4,1737.5 L1307.4,1733.2 L1308.4,1728.9 L1309.4,1724.7 L1310.3,1720.5 L1311.2,1716.3 L1312,1712.2 L1312.7,1708.1 L1313.4,1704 L1314,1700 L1314.5,1696 L1314.9,1692 L1315.3,1688.2 L1315.6,1684.3 L1315.8,1680.5 L1315.9,1676.7 L1316.1,1673 L1316.2,1669.2 L1316.2,1665.6 L1316.2,1661.9 L1316.3,1658.2 L1316.3,1654.6 L1316.3,1650.9 L1316.3,1647.3 L1316.3,1643.7 L1316.4,1640 L1316.5,1636.3 L1316.5,1632.3 L1316.5,1628.3 L1316.6,1624.2 L1316.6,1620.1 L1316.6,1615.9 L1316.6,1611.8 L1316.6,1607.8 L1316.5,1603.8 L1316.5,1600.1 L1316.5,1596.5 L1316.5,1593.2 L1316.4,1590.1 L1316.4,1587.4 L1316.4,1585 L1316.4,1583" stroke-width="18.5" stroke-linecap="butt" stroke-linejoin="round"/>
<path d="M1372.5,1312 L1372.5,1318.3 L1372.5,1325.4 L1372.6,1333.3 L1372.6,1342 L1372.6,1351.4 L1372.7,1361.6 L1372.7,1372.5 L1372.8,1384.1 L1372.8,1396.4 L1372.8,1409.4 L1372.9,1423 L1372.9,1437.2 L1372.9,1452 L1373,1467.5 L1373,1483.5 L1373,1500 L1373,1517.8 L1373,1537.6 L1373,1558.9 L1373.1,1581.5 L1373.1,1605.1 L1373.1,1629.5 L1373.1,1654.3 L1373.1,1679.2 L1373.1,1704.1 L1373.1,1728.5 L1373.1,1752.2 L1373.1,1774.9 L1373.1,1796.3 L1373.1,1816.1 L1373,1834.1 L1373,1850 L1373,1863.9 L1372.9,1876.5 L1372.9,1887.7 L1372.8,1897.8 L1372.8,1906.8 L1372.7,1914.9 L1372.6,1922.2 L1372.5,1928.8 L1372.5,1934.7 L1372.4,1940.2 L1372.3,1945.4 L1372.3,1950.3 L1372.2,1955.1 L1372.1,1959.9 L1372.1,1964.8 L1372,1970 L1372,1975 L1371.9,1979.6 L1371.9,1983.7 L1371.9,1987.4 L1372,1990.8 L1372,1993.9 L1372,1996.8 L1372,1999.4 L1372,2001.9 L1372,2004.4 L1372,2006.8 L1371.9,2009.2 L1371.8,2011.7 L1371.7,2014.3 L1371.5,2017 L1371.3,2020 L1371.1,2023.1 L1370.8,2026.2 L1370.5,2029.3 L1370.2,2032.4 L1369.9,2035.5 L1369.6,2038.5 L1369.2,2041.6 L1368.8,2044.7 L1368.4,2047.8 L1367.9,2050.8 L1367.5,2053.9 L1366.9,2057 L1366.4,2060.1 L1365.8,2063.1 L1365.2,2066.2 L1364.5,2069.3 L1363.8,2072.4 L1363,2075.6 L1362.1,2078.9 L1361.2,2082.2 L1360.2,2085.5 L1359.2,2088.9 L1358.2,2092.2 L1357.2,2095.5 L1356.1,2098.7 L1355.1,2101.9 L1354,2105 L1353,2108 L1352,2110.9 L1351,2113.6 L1350,2116.2 L1349.1,2118.6 L1348.2,2120.8 L1347.4,2122.9 L1346.5,2124.8 L1345.7,2126.6 L1344.9,2128.3 L1344.1,2129.9 L1343.3,2131.4 L1342.5,2132.8 L1341.7,2134.2 L1340.9,2135.5 L1340.2,2136.8 L1339.4,2138 L1338.6,2139.3 L1337.8,2140.6 L1337,2141.9 L1336.2,2143.2 L1335.4,2144.5 L1334.6,2145.9 L1333.8,2147.2 L1333,2148.5 L1332.2,2149.7 L1331.4,2151 L1330.6,2152.2 L1329.8,2153.4 L1329,2154.5 L1328.1,2155.7 L1327.3,2156.8 L1326.5,2157.9 L1325.6,2158.9 L1324.8,2160 L1323.9,2161 L1323,2162 L1322.1,2163 L1321.2,2163.9 L1320.2,2164.9 L1319.3,2165.8 L1318.3,2166.7 L1317.3,2167.6 L1316.3,2168.4 L1315.3,2169.2 L1314.3,2170 L1313.3,2170.8 L1312.3,2171.5 L1311.3,2172.2 L1310.3,2172.8 L1309.3,2173.4 L1308.3,2174 L1307.3,2174.5 L1306.3,2175 L1305.3,2175.4 L1304.3,2175.8 L1303.3,2176.1 L1302.3,2176.4 L1301.4,2176.7 L1300.4,2176.9 L1299.4,2177.1 L1298.4,2177.2 L1297.3,2177.3 L1296.3,2177.4 L1295.3,2177.5 L1294.2,2177.5 L1293.2,2177.5 L1292.1,2177.5 L1291,2177.5 L1289.9,2177.4 L1288.8,2177.3 L1287.6,2177.2 L1286.4,2177.1 L1285.3,2176.9 L1284.1,2176.6 L1282.9,2176.4 L1281.7,2176.1 L1280.5,2175.8 L1279.2,2175.5 L1278,2175.1 L1276.8,2174.8 L1275.6,2174.4 L1274.4,2173.9 L1273.2,2173.5 L1272,2173 L1270.8,2172.5 L1269.6,2172 L1268.4,2171.4 L1267.1,2170.8 L1265.9,2170.2 L1264.7,2169.6 L1263.4,2169 L1262.2,2168.3 L1261,2167.6 L1259.8,2166.9 L1258.6,2166.1 L1257.4,2165.3 L1256.3,2164.5 L1255.2,2163.7 L1254.1,2162.9 L1253,2162 L1252,2161.1 L1250.9,2160.2 L1249.9,2159.3 L1248.9,2158.4 L1248,2157.4 L1247,2156.5 L1246,2155.5 L1245.1,2154.5 L1244.2,2153.4 L1243.3,2152.3 L1242.5,2151.2 L1241.6,2150.1 L1240.8,2148.9 L1240,2147.6 L1239.2,2146.3 L1238.5,2145 L1237.8,2143.7 L1237.1,2142.3 L1236.4,2141 L1235.7,2139.6 L1235,2138.2 L1234.4,2136.8 L1233.8,2135.3 L1233.2,2133.8 L1232.6,2132.2 L1232,2130.6 L1231.5,2128.9 L1231.1,2127 L1230.6,2125.1 L1230.2,2123.1 L1229.8,2120.9 L1229.5,2118.6 L1229.2,2116.1 L1228.9,2113.5 L1228.7,2110.8 L1228.4,2107.9 L1228.2,2104.9 L1228.1,2101.8 L1227.9,2098.6 L1227.8,2095.4 L1227.8,2092.1 L1227.7,2088.8 L1227.8,2085.5 L1227.8,2082.2 L1227.9,2078.9 L1228.1,2075.6 L1228.3,2072.4 L1228.5,2069.3 L1228.8,2066.3 L1229.1,2063.4 L1229.5,2060.6 L1229.9,2057.9 L1230.3,2055.2 L1230.8,2052.6 L1231.3,2049.9 L1231.9,2047.1 L1232.5,2044.3 L1233.1,2041.4 L1233.8,2038.3 L1234.6,2035.1 L1235.4,2031.7 L1236.3,2028.1 L1237.2,2024.2 L1238.2,2020 L1239.3,2015.5 L1240.4,2010.7 L1241.7,2005.7 L1243.1,2000.4 L1244.5,1994.9 L1246,1989.2 L1247.5,1983.4 L1249,1977.5 L1250.6,1971.5 L1252.2,1965.5 L1253.7,1959.6 L1255.3,1953.6 L1256.8,1947.8 L1258.2,1942 L1259.7,1936.4 L1261,1931 L1262.3,1925.7 L1263.5,1920.5 L1264.8,1915.3 L1266,1910.2 L1267.2,1905.1 L1268.4,1900 L1269.5,1895 L1270.7,1890 L1271.8,1885 L1273,1880 L1274.1,1875 L1275.3,1870.1 L1276.4,1865.1 L1277.6,1860.1 L1278.7,1855 L1279.9,1850 L1281.1,1844.9 L1282.3,1839.8 L1283.5,1834.6 L1284.7,1829.5 L1285.9,1824.3 L1287.2,1819.1 L1288.4,1813.9 L1289.6,1808.8 L1290.8,1803.6 L1292,1798.5 L1293.2,1793.4 L1294.3,1788.4 L1295.5,1783.4 L1296.6,1778.6 L1297.7,1773.7 L1298.8,1769 L1299.9,1764.3 L1301,1759.7 L1302.1,1755.2 L1303.2,1750.7 L1304.3,1746.2 L1305.3,1741.9 L1306.4,1737.5 L1307.4,1733.2 L1308.4,1728.9 L1309.4,1724.7 L1310.3,1720.5 L1311.2,1716.3 L1312,1712.2 L1312.7,1708.1 L1313.4,1704 L1314,1700 L1314.5,1696 L1314.9,1692 L1315.3,1688.2 L1315.6,1684.3 L1315.8,1680.5 L1315.9,1676.7 L1316.1,1673 L1316.2,1669.2 L1316.2,1665.6 L1316.2,1661.9 L1316.3,1658.2 L1316.3,1654.6 L1316.3,1650.9 L1316.3,1647.3 L1316.3,1643.7 L1316.4,1640 L1316.5,1636.3 L1316.5,1632.3 L1316.5,1628.3 L1316.6,1624.2 L1316.6,1620.1 L1316.6,1615.9 L1316.6,1611.8 L1316.6,1607.8 L1316.5,1603.8 L1316.5,1600.1 L1316.5,1596.5 L1316.5,1593.2 L1316.4,1590.1 L1316.4,1587.4 L1316.4,1585 L1316.4,1583" stroke-width="13.5" stroke="#fff" stroke-linecap="butt" stroke-linejoin="round"/>
<path d="M1364.8,1316L1380.2,1312M1364.8,1320.2L1380.3,1316.2M1364.8,1326.8L1380.3,1322.8M1364.8,1331L1380.3,1327M1364.8,1337.6L1380.3,1333.6M1364.9,1341.8L1380.3,1337.8M1364.9,1348.4L1380.4,1344.4M1364.9,1352.6L1380.4,1348.6M1364.9,1359.2L1380.4,1355.2M1364.9,1363.4L1380.4,1359.4M1365,1370L1380.4,1366M1365,1374.2L1380.5,1370.2M1365,1380.8L1380.5,1376.8M1365,1385L1380.5,1381M1365,1391.6L1380.5,1387.6M1365,1395.8L1380.5,1391.8M1365.1,1402.4L1380.5,1398.4M1365.1,1406.6L1380.6,1402.6M1365.1,1413.2L1380.6,1409.2M1365.1,1417.4L1380.6,1413.4M1365.1,1424L1380.6,1420M1365.1,1428.2L1380.6,1424.2M1365.1,1434.8L1380.6,1430.8M1365.2,1439L1380.6,1435M1365.2,1445.6L1380.7,1441.6M1365.2,1449.8L1380.7,1445.8M1365.2,1456.4L1380.7,1452.4M1365.2,1460.6L1380.7,1456.6M1365.2,1467.2L1380.7,1463.2M1365.2,1471.4L1380.7,1467.4M1365.2,1478L1380.7,1474M1365.2,1482.2L1380.7,1478.2M1365.2,1488.8L1380.7,1484.8M1365.2,1493L1380.7,1489M1365.2,1499.6L1380.7,1495.6M1365.3,1503.8L1380.7,1499.8M1365.3,1510.4L1380.8,1506.4M1365.3,1514.6L1380.8,1510.6M1365.3,1521.2L1380.8,1517.2M1365.3,1525.4L1380.8,1521.4M1365.3,1532L1380.8,1528M1365.3,1536.2L1380.8,1532.2M1365.3,1542.8L1380.8,1538.8M1365.3,1547L1380.8,1543M1365.3,1553.6L1380.8,1549.6M1365.3,1557.8L1380.8,1553.8M1365.3,1564.4L1380.8,1560.4M1365.3,1568.6L1380.8,1564.6M1365.3,1575.2L1380.8,1571.2M1365.3,1579.4L1380.8,1575.4M1365.3,1586L1380.8,1582M1365.3,1590.2L1380.8,1586.2M1365.3,1596.8L1380.8,1592.8M1365.3,1601L1380.8,1597M1365.3,1607.6L1380.8,1603.6M1365.3,1611.8L1380.8,1607.8M1365.3,1618.4L1380.8,1614.4M1365.3,1622.6L1380.8,1618.6M1365.3,1629.2L1380.8,1625.2M1365.3,1633.4L1380.8,1629.4M1365.3,1640L1380.8,1636M1365.3,1644.2L1380.8,1640.2M1365.3,1650.8L1380.8,1646.8M1365.3,1655L1380.8,1651M1365.3,1661.6L1380.8,1657.6M1365.3,1665.8L1380.8,1661.8M1365.3,1672.4L1380.8,1668.4M1365.3,1676.6L1380.8,1672.6M1365.3,1683.2L1380.8,1679.2M1365.3,1687.4L1380.8,1683.4M1365.3,1694L1380.8,1690M1365.3,1698.2L1380.8,1694.2M1365.3,1704.8L1380.8,1700.8M1365.3,1709L1380.8,1705M1365.3,1715.6L1380.8,1711.6M1365.3,1719.8L1380.8,1715.8M1365.3,1726.4L1380.8,1722.4M1365.3,1730.6L1380.8,1726.6M1365.3,1737.2L1380.8,1733.2M1365.3,1741.4L1380.8,1737.4M1365.3,1748L1380.8,1744M1365.3,1752.2L1380.8,1748.2M1365.3,1758.8L1380.8,1754.8M1365.3,1763L1380.8,1759M1365.3,1769.6L1380.8,1765.6M1365.3,1773.8L1380.8,1769.8M1365.3,1780.4L1380.8,1776.4M1365.3,1784.6L1380.8,1780.6M1365.3,1791.2L1380.8,1787.2M1365.3,1795.4L1380.8,1791.4M1365.3,1802L1380.8,1798M1365.3,1806.2L1380.8,1802.2M1365.3,1812.8L1380.8,1808.8M1365.3,1817L1380.8,1813M1365.3,1823.6L1380.8,1819.6M1365.3,1827.8L1380.8,1823.8M1365.3,1834.4L1380.8,1830.4M1365.3,1838.6L1380.8,1834.6M1365.3,1845.2L1380.8,1841.2M1365.3,1849.4L1380.8,1845.4M1365.2,1856L1380.7,1852M1365.2,1860.2L1380.7,1856.2M1365.2,1866.8L1380.7,1862.8M1365.2,1871L1380.7,1867M1365.2,1877.6L1380.7,1873.6M1365.1,1881.8L1380.7,1877.8M1365.1,1888.4L1380.6,1884.4M1365.1,1892.6L1380.6,1888.6M1365.1,1899.2L1380.6,1895.2M1365,1903.3L1380.6,1899.5M1365,1909.9L1380.5,1906.1M1364.9,1914.1L1380.5,1910.3M1364.9,1920.7L1380.4,1916.9M1364.8,1924.9L1380.4,1921.1M1364.8,1931.5L1380.3,1927.7M1364.7,1935.7L1380.3,1931.9M1364.6,1942.3L1380.2,1938.5M1364.6,1946.5L1380.1,1942.7M1364.5,1953.1L1380,1949.3M1364.4,1957.3L1380,1953.5M1364.3,1963.9L1379.9,1960.1M1364.3,1968.1L1379.8,1964.3M1364.2,1974.7L1379.7,1970.9M1364.2,1979L1379.7,1975M1364.2,1985.6L1379.7,1981.6M1364.2,1989.8L1379.7,1985.8M1364.2,1996.4L1379.7,1992.3M1364.3,2000.6L1379.8,1996.6M1364.2,2007.1L1379.8,2003.3M1364.1,2011.1L1379.7,2007.7M1363.7,2017.5L1379.4,2014.5M1363.4,2021.6L1379.2,2018.8M1362.9,2028.1L1378.6,2025.4M1362.5,2032.2L1378.3,2029.7M1361.8,2038.6L1377.6,2036.4M1361.3,2042.7L1377.1,2040.7M1360.4,2049.1L1376.3,2047.4M1359.7,2053.1L1375.7,2051.6M1358.6,2059.5L1374.6,2058.3M1357.8,2063.5L1373.8,2062.5M1356.5,2069.6L1372.5,2069.3M1355.5,2073.6L1371.5,2073.5M1353.8,2079.8L1369.8,2080.1M1352.7,2083.8L1368.7,2084.2M1350.8,2089.9L1366.8,2090.7M1349.6,2093.9L1365.5,2094.7M1347.5,2100L1363.5,2101.1M1346.2,2104L1362.2,2105.2M1344,2110.1L1360,2111.5M1342.6,2113.9L1358.5,2115.6M1340.3,2119.8L1356.1,2122M1338.6,2123.5L1354.5,2126M1335.9,2128.8L1351.4,2132.6M1333.9,2132.1L1349.3,2136.6M1330.5,2137.6L1345.8,2142.4M1328.3,2141.3L1343.6,2145.9M1324.9,2146.7L1340.1,2151.7M1322.7,2150L1337.8,2155.4M1319,2154.8L1333.7,2161.3M1316.6,2157.6L1330.7,2165M1312.3,2161.7L1325.8,2170.3M1309.4,2164.1L1322.4,2173.5M1304.7,2167.2L1316.4,2178.1M1301.8,2168.5L1312,2180.9M1297,2169.7L1304.3,2183.9M1293.8,2169.9L1299.2,2185M1288.4,2169.6L1291.5,2185.3M1285,2169L1286.5,2184.9M1279.4,2167.5L1279.2,2183.5M1276,2166.3L1274.6,2182.2M1270.5,2163.9L1267.8,2179.7M1267.1,2162.2L1263.6,2177.8M1262.1,2159.1L1257.2,2174.4M1259.1,2157L1253.2,2171.9M1254.6,2153.1L1247.4,2167.4M1252,2150.5L1243.8,2164.3M1248.2,2146.1L1238.8,2159M1246.3,2143.1L1235.7,2155.2M1243.6,2138.1L1231.8,2148.9M1241.8,2134.5L1229.7,2145M1239.7,2129.2L1226.5,2138.2M1238.7,2125.6L1224.9,2133.8M1237.5,2119.8L1223,2126.8M1237,2116L1222.2,2122.2M1236.4,2109.9L1221.3,2115.3M1236,2105.8L1220.9,2111M1235.7,2099.4L1220.4,2104.2M1235.6,2095.4L1220.2,2099.8M1235.5,2088.9L1220,2093.1M1235.5,2084.8L1220,2088.8M1235.7,2078.4L1220.1,2082M1235.9,2074.4L1220.2,2077.7M1236.4,2068L1220.6,2070.8M1236.8,2064.1L1221,2066.4M1237.7,2057.8L1221.8,2059.6M1238.4,2054L1222.4,2055.2M1239.7,2047.7L1223.7,2048.5M1240.6,2043.7L1224.6,2044.2M1242,2037.4L1226,2037.7M1243,2033.3L1227,2033.6M1244.5,2026.9L1228.5,2027.2M1245.5,2022.8L1229.5,2023.1M1247,2016.4L1231,2016.7M1248,2012.4L1232,2012.5M1249.6,2006L1233.6,2006.1M1250.7,2001.9L1234.7,2002M1252.3,1995.6L1236.3,1995.6M1253.4,1991.5L1237.4,1991.5M1255,1985.2L1239,1985.1M1256.1,1981.1L1240.1,1981M1257.8,1974.7L1241.8,1974.6M1258.8,1970.6L1242.8,1970.6M1260.5,1964.3L1244.5,1964.2M1261.6,1960.2L1245.6,1960.1M1263.2,1953.8L1247.2,1953.8M1264.3,1949.7L1248.3,1949.7M1265.9,1943.3L1249.9,1943.3M1266.9,1939.2L1250.9,1939.3M1268.5,1932.8L1252.5,1932.9M1269.5,1928.7L1253.5,1928.9M1271.1,1922.2L1255.1,1922.5M1272.1,1918.1L1256.1,1918.4M1273.6,1911.7L1257.6,1912M1274.6,1907.6L1258.6,1907.9M1276.1,1901.1L1260.1,1901.5M1277,1897L1261,1897.4M1278.5,1890.6L1262.5,1891M1279.4,1886.5L1263.4,1886.9M1280.9,1880.1L1264.9,1880.5M1281.9,1876L1265.9,1876.4M1283.3,1869.5L1267.3,1870M1284.3,1865.5L1268.3,1865.9M1285.8,1859L1269.8,1859.4M1286.7,1854.9L1270.7,1855.3M1288.2,1848.5L1272.2,1848.9M1289.2,1844.4L1273.2,1844.8M1290.7,1838L1274.7,1838.4M1291.6,1833.9L1275.6,1834.3M1293.1,1827.5L1277.1,1827.9M1294.1,1823.4L1278.1,1823.8M1295.6,1817L1279.6,1817.3M1296.6,1812.9L1280.6,1813.3M1298.1,1806.5L1282.1,1806.8M1299,1802.4L1283,1802.7M1300.5,1796L1284.5,1796.3M1301.5,1791.9L1285.5,1792.2M1303,1785.4L1287,1785.8M1303.9,1781.3L1287.9,1781.7M1305.4,1774.9L1289.4,1775.3M1306.3,1770.8L1290.3,1771.2M1307.8,1764.4L1291.8,1764.8M1308.8,1760.3L1292.8,1760.6M1310.3,1754L1294.3,1754.2M1311.3,1749.9L1295.3,1750.1M1312.9,1743.5L1296.9,1743.7M1313.9,1739.4L1297.9,1739.6M1315.5,1732.9L1299.5,1733.3M1316.4,1728.8L1300.4,1729.2M1317.9,1722.3L1301.9,1722.9M1318.7,1718.1L1302.8,1718.8M1320,1711.4L1304.1,1712.6M1320.8,1707.1L1304.8,1708.6M1321.8,1700.5L1305.8,1702.2M1322.3,1696.1L1306.4,1698.2M1323,1689.3L1307.2,1691.9M1323.3,1685L1307.5,1687.8M1323.6,1678.2L1308,1681.5M1323.8,1673.9L1308.2,1677.4M1323.9,1667.1L1308.4,1670.9M1324,1662.9L1308.4,1666.8M1324,1656.3L1308.5,1660.2M1324,1652.1L1308.5,1656M1324.1,1645.5L1308.5,1649.4M1324.1,1641.4L1308.6,1645.1M1324.2,1634.8L1308.7,1638.5M1324.3,1630.5L1308.7,1634.3M1324.3,1623.9L1308.8,1627.8M1324.3,1619.7L1308.8,1623.6M1324.3,1613L1308.8,1617.1M1324.3,1608.8L1308.8,1612.9M1324.3,1602.2L1308.8,1606.3M1324.2,1598L1308.8,1602.1M1324.2,1591.4L1308.7,1595.5M1324.2,1587.2L1308.7,1591.3" stroke-width="2.6"/>
<polygon points="1265,1270 1386,1270 1386,1314 1265,1314" stroke-width="0" fill="#fff"/>
<line x1="1264.6" y1="1270" x2="1300.8" y2="1270" stroke-width="2"/>
<line x1="1331.2" y1="1270" x2="1356" y2="1270" stroke-width="2"/>
<line x1="1385.8" y1="1270" x2="1387.4" y2="1270" stroke-width="2"/>
<line x1="1264.6" y1="1314" x2="1300.8" y2="1314" stroke-width="2"/>
<line x1="1331.2" y1="1314" x2="1387.4" y2="1314" stroke-width="2"/>
<line x1="1265" y1="1269" x2="1265" y2="1314.8" stroke-width="2"/>
<line x1="1386" y1="1269" x2="1386" y2="1314.8" stroke-width="2"/>
<line x1="1292" y1="1270" x2="1292" y2="1313.8" stroke-width="2"/>
<line x1="1342" y1="1270" x2="1342" y2="1313.8" stroke-width="2"/>
<polygon points="1274,1244 1282,1244 1282,1270 1274,1270" stroke-width="2"/>
<path d="M1300.8,1270 Q1316,1285.5 1331.2,1270" stroke-width="2.6"/>
<path d="M1300.8,1313.8 Q1316,1298 1331.2,1313.8" stroke-width="2.6"/>
<path d="M1356,1270 Q1371,1284 1385.8,1270" stroke-width="2.6"/>
<path d="M1343.4,1102.3 Q1355,1116 1357,1133 L1355.5,1264" stroke-width="2.6" fill="#fff"/>
<line x1="1359" y1="1133" x2="1359" y2="1264" stroke-width="2"/>
<path d="M1400,1102.3 Q1390.5,1118 1389.6,1133 L1387.8,1151.6 L1386.3,1179.3" stroke-width="2.3"/>
<polygon points="1384,1184 1392,1184 1392,1264 1384,1264" stroke-width="1.6"/>
<line x1="1387.9" y1="1183.9" x2="1387.9" y2="1264" stroke-width="2.4"/>
<line x1="1373" y1="1135.6" x2="1373" y2="1265" stroke-width="1.8"/>
<polygon points="1370,1109 1376,1109 1376,1136 1370,1136" stroke-width="1.8"/>
<polyline points="1355.7,1264.9 1361.8,1268.8 1382.7,1268.8 1391,1264.5" stroke-width="3.2"/>
<path d="M1315.2,1074 A61.5,61.5 0 1 1 1430.8,1074" stroke-width="2.4" fill="#fff"/>
<ellipse cx="1373.5" cy="1053.3" rx="60.3" ry="55" stroke-width="2.8" fill="#fff"/>
<path d="M1315,1040 A60.3,55 0 0 1 1432,1040" stroke-width="4.6"/>
<path d="M1372.8,1037.4L1372.8,1035.4M1372.8,1030L1372.8,1028M1372.8,1022.5L1372.8,1020.6M1372.8,1015.1L1372.8,1013.1M1379.6,1038.5L1380.4,1036.6M1382.4,1031.5L1383.2,1029.6M1385.2,1024.5L1386,1022.7M1388.1,1017.5L1388.8,1015.7M1385.6,1041.6L1387,1040.1M1390.9,1035.9L1392.3,1034.4M1396.2,1030.2L1397.6,1028.7M1401.5,1024.5L1402.9,1023M1390,1046.3L1391.9,1045.4M1397.2,1042.6L1399.1,1041.6M1404.3,1038.9L1406.2,1037.9M1411.5,1035.2L1413.4,1034.2M1392.4,1052.2L1394.6,1051.8M1400.5,1050.9L1402.7,1050.6M1408.6,1049.6L1410.8,1049.3M1416.8,1048.3L1418.9,1048M1392.4,1058.4L1394.6,1058.8M1400.5,1059.7L1402.7,1060M1408.6,1061L1410.8,1061.3M1416.8,1062.3L1418.9,1062.6M1390,1064.3L1391.9,1065.2M1397.2,1068L1399.1,1069M1404.3,1071.7L1406.2,1072.7M1411.5,1075.4L1413.4,1076.4M1385.6,1069L1387,1070.5M1390.9,1074.7L1392.3,1076.2M1396.2,1080.4L1397.6,1081.9M1401.5,1086.1L1402.9,1087.6M1379.6,1072.1L1380.4,1074M1382.4,1079.1L1383.2,1081M1385.2,1086.1L1386,1087.9M1388.1,1093.1L1388.8,1094.9M1372.8,1073.2L1372.8,1075.2M1372.8,1080.6L1372.8,1082.6M1372.8,1088.1L1372.8,1090M1372.8,1095.5L1372.8,1097.5M1366,1072.1L1365.2,1074M1363.2,1079.1L1362.4,1081M1360.4,1086.1L1359.6,1087.9M1357.5,1093.1L1356.8,1094.9M1360,1069L1358.6,1070.5M1354.7,1074.7L1353.3,1076.2M1349.4,1080.4L1348,1081.9M1344.1,1086.1L1342.7,1087.6M1355.6,1064.3L1353.7,1065.2M1348.4,1068L1346.5,1069M1341.3,1071.7L1339.4,1072.7M1334.1,1075.4L1332.2,1076.4M1353.2,1058.4L1351,1058.8M1345.1,1059.7L1342.9,1060M1337,1061L1334.8,1061.3M1328.8,1062.3L1326.7,1062.6M1353.2,1052.2L1351,1051.8M1345.1,1050.9L1342.9,1050.6M1337,1049.6L1334.8,1049.3M1328.8,1048.3L1326.7,1048M1355.6,1046.3L1353.7,1045.4M1348.4,1042.6L1346.5,1041.6M1341.3,1038.9L1339.4,1037.9M1334.1,1035.2L1332.2,1034.2M1360,1041.6L1358.6,1040.1M1354.7,1035.9L1353.3,1034.4M1349.4,1030.2L1348,1028.7M1344.1,1024.5L1342.7,1023M1366,1038.5L1365.2,1036.6M1363.2,1031.5L1362.4,1029.6M1360.4,1024.5L1359.6,1022.7M1357.5,1017.5L1356.8,1015.7" stroke-width="4.8" stroke-linecap="round"/>
<g fill="#000" stroke="none"><circle cx="1385.8" cy="1056" r="3.3"/><circle cx="1382.3" cy="1063.8" r="3.3"/><circle cx="1374.4" cy="1067.7" r="3.3"/><circle cx="1365.7" cy="1065.8" r="3.3"/><circle cx="1360.4" cy="1059" r="3.3"/><circle cx="1360.8" cy="1050.4" r="3.3"/><circle cx="1366.9" cy="1044.2" r="3.3"/><circle cx="1375.7" cy="1043.1" r="3.3"/><circle cx="1383.2" cy="1047.8" r="3.3"/></g>
</svg>
</body></html>
